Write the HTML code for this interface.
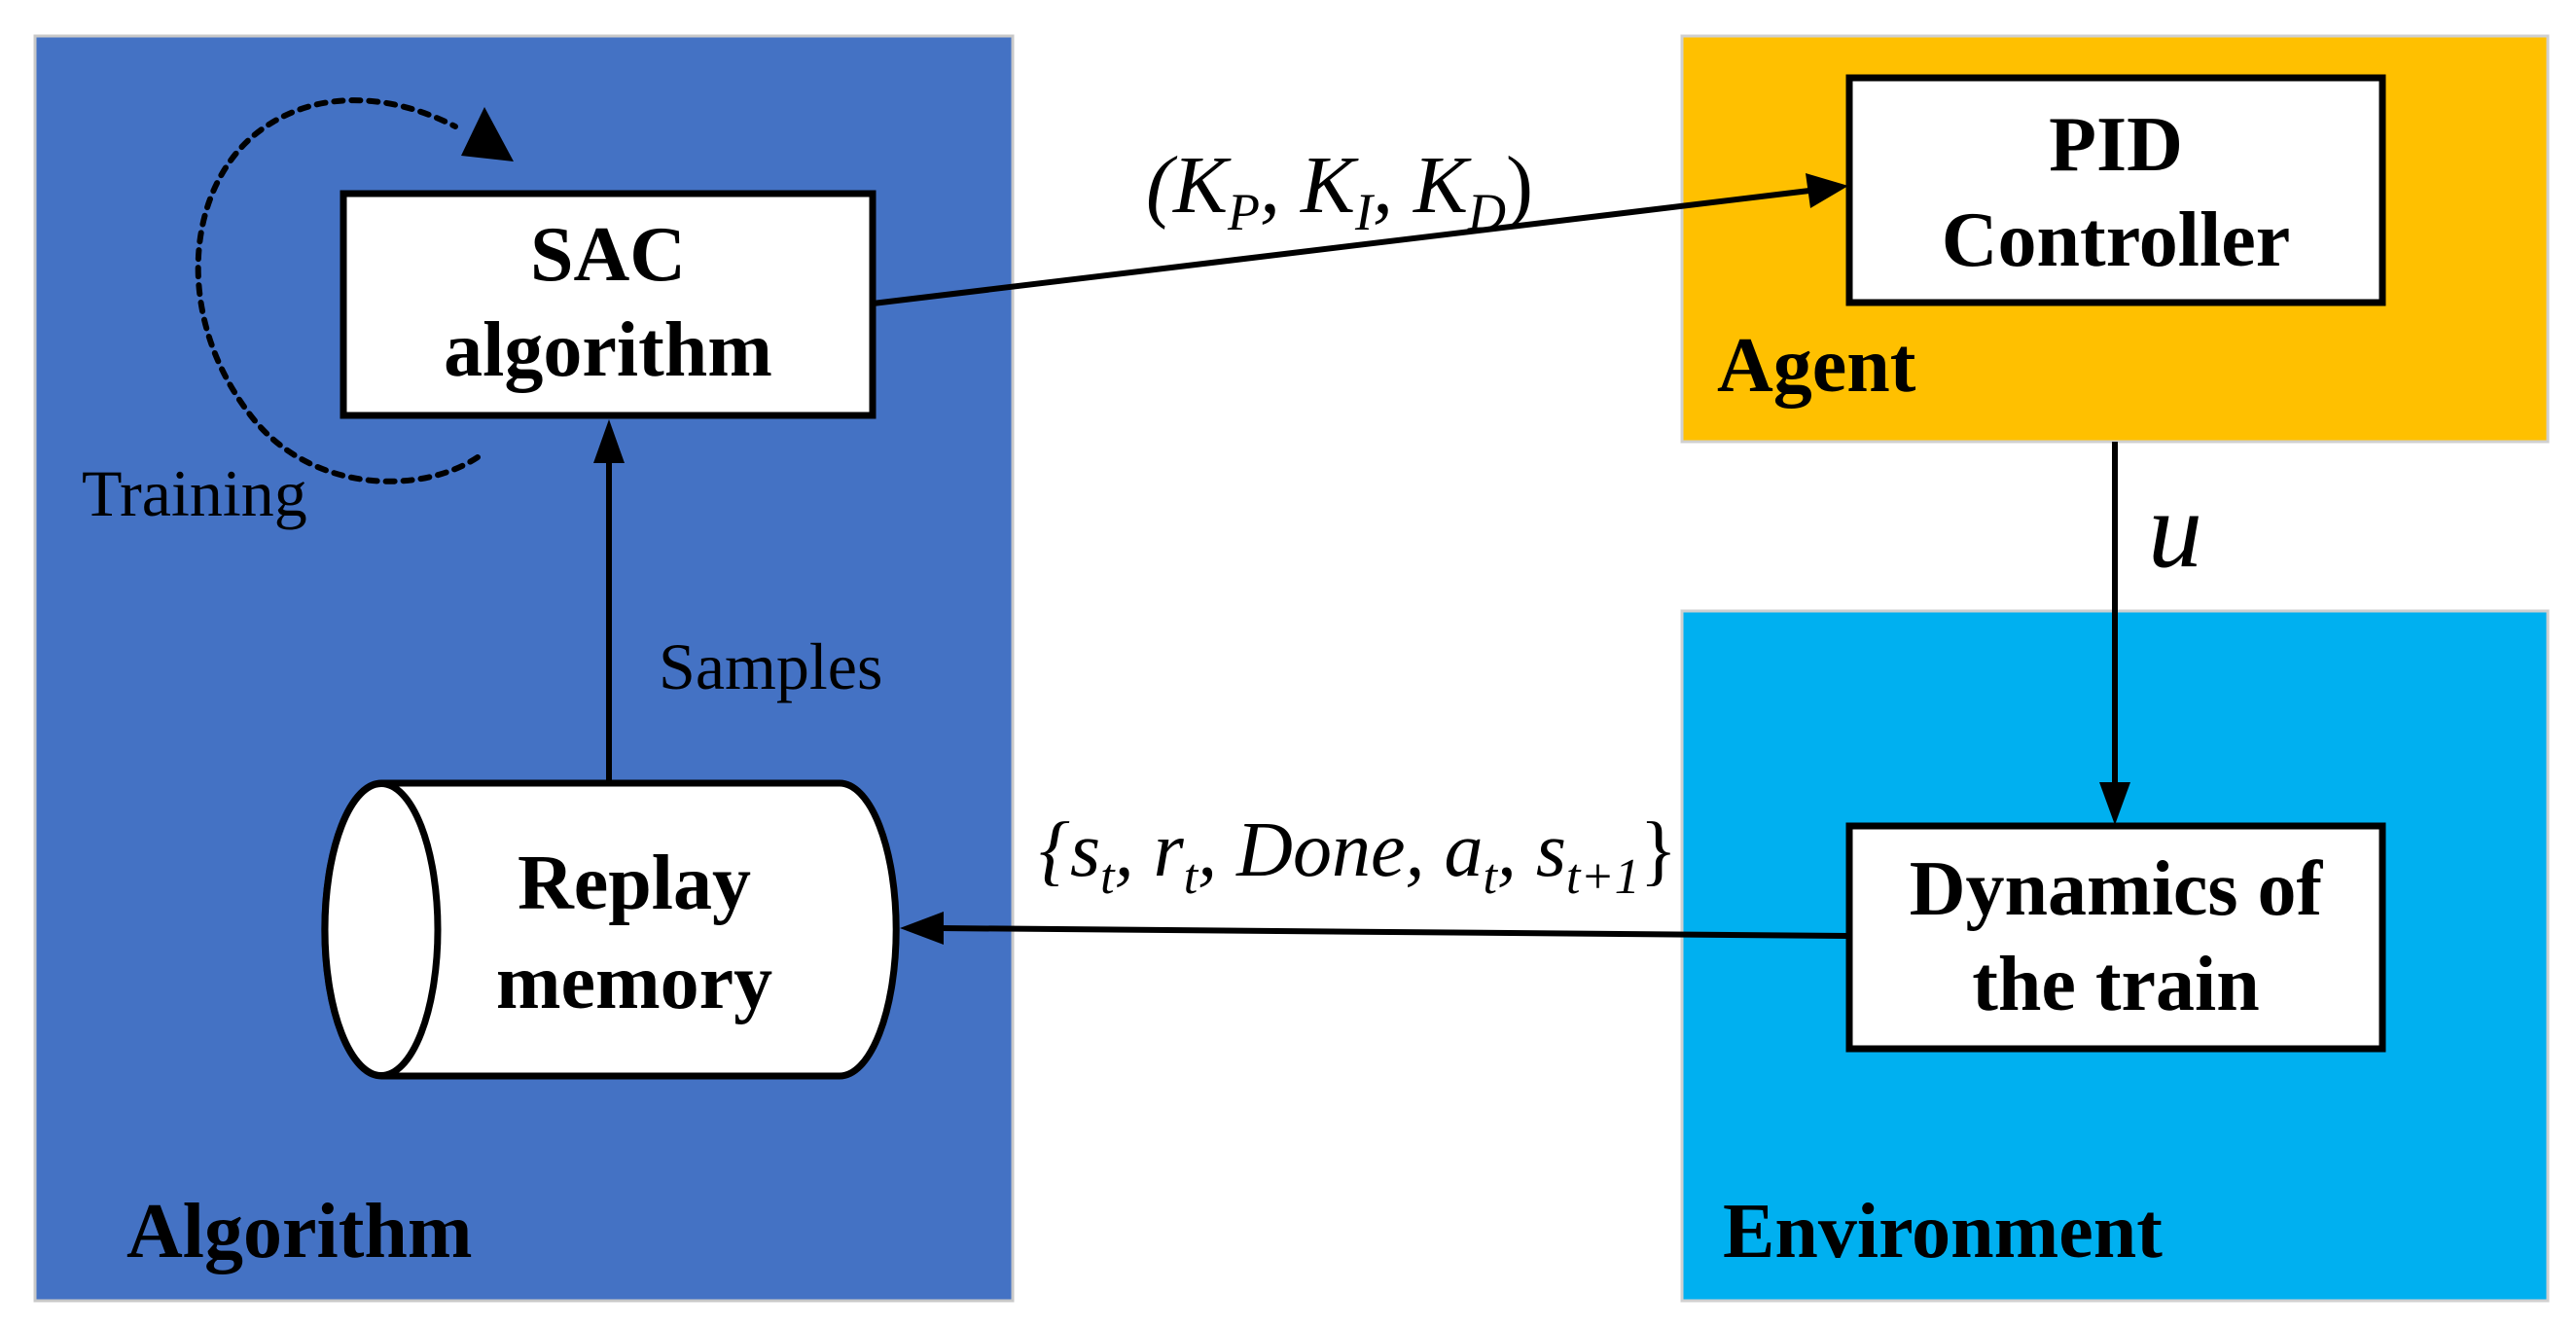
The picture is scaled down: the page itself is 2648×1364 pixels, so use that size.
<!DOCTYPE html>
<html><head><meta charset="utf-8"><style>
html,body{margin:0;padding:0;background:#fff;}
svg{display:block;}
text{font-family:"Liberation Serif",serif;}
.b{font-weight:bold;font-size:80px;}
.i{font-style:italic;}
</style></head><body>
<svg width="2648" height="1364" viewBox="0 0 2648 1364" xmlns="http://www.w3.org/2000/svg">
<!-- panels -->
<rect x="36" y="37" width="1005" height="1300" fill="#4472C4" stroke="#c8c8c8" stroke-width="3"/>
<rect x="1729" y="37" width="890" height="417" fill="#FFC000" stroke="#d0d0d0" stroke-width="3"/>
<rect x="1729" y="628" width="890" height="709" fill="#00B0F0" stroke="#d0d0d0" stroke-width="3"/>

<!-- SAC box -->
<rect x="353" y="199" width="544" height="228" fill="#fff" stroke="#000" stroke-width="7"/>
<text class="b" x="625" y="288" text-anchor="middle">SAC</text>
<text class="b" x="625" y="386" text-anchor="middle">algorithm</text>

<!-- PID box -->
<rect x="1901" y="80" width="548" height="231" fill="#fff" stroke="#000" stroke-width="7"/>
<text class="b" x="2175" y="175" text-anchor="middle">PID</text>
<text class="b" x="2175" y="273" text-anchor="middle">Controller</text>

<!-- Dynamics box -->
<rect x="1901" y="849" width="548" height="229" fill="#fff" stroke="#000" stroke-width="7"/>
<text class="b" x="2175" y="940" text-anchor="middle">Dynamics of</text>
<text class="b" x="2175" y="1038" text-anchor="middle">the train</text>

<!-- Cylinder -->
<path d="M392,805 L863,805 A58,150 0 0 1 863,1106 L392,1106 A58,150 0 0 1 392,805 Z" fill="#fff" stroke="#000" stroke-width="7"/>
<ellipse cx="392" cy="955.5" rx="58" ry="150" fill="#fff" stroke="#000" stroke-width="7"/>
<text class="b" x="652" y="934" text-anchor="middle">Replay</text>
<text class="b" x="652" y="1036" text-anchor="middle">memory</text>

<!-- Samples arrow -->
<line x1="626" y1="802" x2="626" y2="470" stroke="#000" stroke-width="6"/>
<polygon points="626,431 610,476 642,476" fill="#000"/>
<text x="677" y="708" font-size="68">Samples</text>

<!-- SAC -> PID -->
<line x1="897" y1="312" x2="1860" y2="196" stroke="#000" stroke-width="6"/>
<polygon points="1900,191 1856,178 1861,214" fill="#000"/>
<text class="i" x="1178" y="218" font-size="84">(K<tspan font-size="54" dy="18">P</tspan><tspan dy="-18">, K</tspan><tspan font-size="54" dy="18">I</tspan><tspan dy="-18">, K</tspan><tspan font-size="54" dy="18">D</tspan><tspan dy="-18" font-style="normal">)</tspan></text>

<!-- u arrow -->
<line x1="2174" y1="454" x2="2174" y2="808" stroke="#000" stroke-width="6"/>
<polygon points="2174,848 2158,804 2190,804" fill="#000"/>
<text class="i" x="2208" y="582" font-size="112">u</text>

<!-- Dynamics -> Replay -->
<line x1="1900" y1="962" x2="965" y2="954" stroke="#000" stroke-width="6"/>
<polygon points="925,954 970,937 970,971" fill="#000"/>
<text class="i" x="1068" y="900" font-size="80">{s<tspan font-size="52" dy="18">t</tspan><tspan dy="-18">, r</tspan><tspan font-size="52" dy="18">t</tspan><tspan dy="-18">, Done, a</tspan><tspan font-size="52" dy="18">t</tspan><tspan dy="-18">, s</tspan><tspan font-size="52" dy="18">t+1</tspan><tspan dy="-18" font-style="normal">}</tspan></text>

<!-- Training dashed loop -->
<path d="M491,470 C430,510 320,505 260,430 C180,330 190,200 260,140 C320,90 400,95 468,130" fill="none" stroke="#000" stroke-width="6" stroke-dasharray="9,9" stroke-linecap="round"/>
<polygon points="498,110 474,160 528,166" fill="#000"/>
<text x="84" y="530" font-size="68">Training</text>

<!-- panel labels -->
<text class="b" x="130" y="1292" font-size="78">Algorithm</text>
<text class="b" x="1765" y="402">Agent</text>
<text class="b" x="1771" y="1292" font-size="78">Environment</text>
</svg>
</body></html>
